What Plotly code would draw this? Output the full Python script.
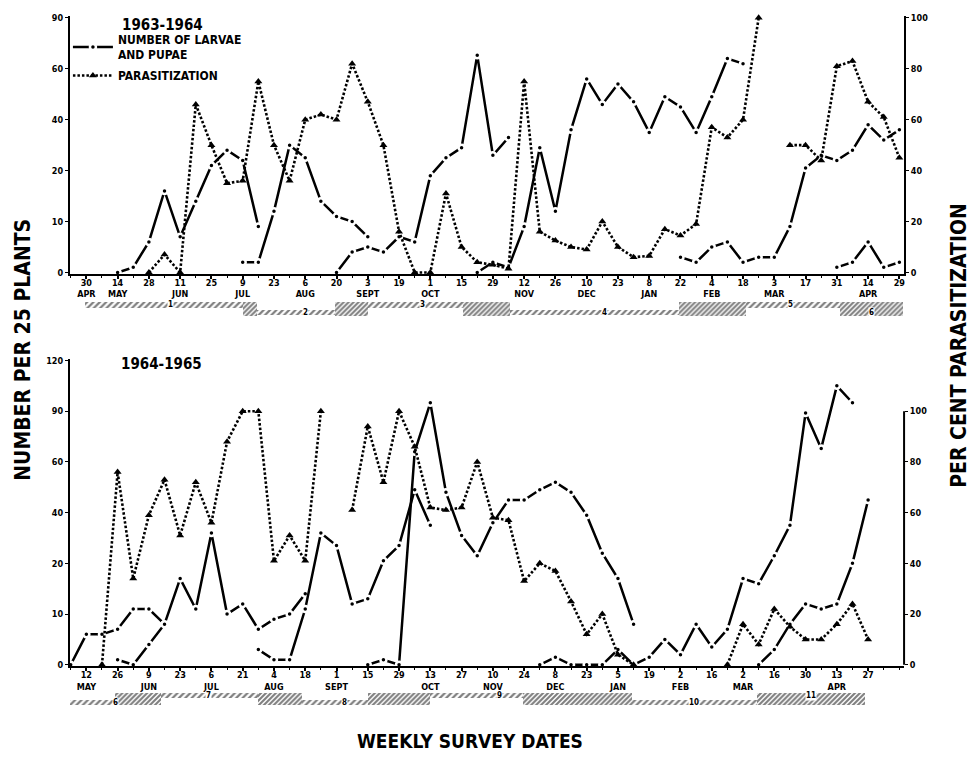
import numpy as np
import plotly.graph_objects as go

W, H = 976, 757

# ------------------------------------------------------------------
# DATA
# Week index: top panel 0 = 30 Apr 1963 ; bottom panel 0 = 12 May 1964
# ------------------------------------------------------------------
top_tick_days = ["30", "14", "28", "11", "25", "9", "23", "6", "20", "3", "19", "1", "15", "29",
                 "12", "26", "10", "23", "8", "22", "4", "18", "3", "17", "31", "14", "29"]
top_tick_months = ["APR", "MAY", "", "JUN", "", "JUL", "", "AUG", "", "SEPT", "", "OCT", "", "",
                   "NOV", "", "DEC", "", "JAN", "", "FEB", "", "MAR", "", "", "APR", ""]

bot_tick_days = ["12", "26", "9", "23", "6", "21", "4", "18", "1", "15", "29", "13", "27", "10",
                 "24", "8", "23", "5", "19", "2", "16", "2", "16", "30", "13", "27"]
bot_tick_months = ["MAY", "", "JUN", "", "JUL", "", "AUG", "", "SEPT", "", "", "OCT", "", "NOV",
                   "", "DEC", "", "JAN", "", "FEB", "", "MAR", "", "", "APR", ""]

top_count_ticks = [0, 10, 20, 40, 60, 90]
bot_count_ticks = [0, 10, 20, 40, 60, 90, 120]
pct_ticks = [0, 20, 40, 60, 80, 100]

# larvae + pupae per 25 plants (one list per generation), with first week index
top_larvae_start = [2, 10, 16, 25, 38, 48]
top_larvae_g1 = [0, 1, 6, 16, 7, 14, 22, 28, 24, 9]
top_larvae_g2 = [2, 2, 12, 30, 25, 14, 11, 10, 7]
top_larvae_g3 = [0, 4, 5, 4, 7, 6, 19, 25, 29, 68, 26, 33]
top_larvae_g4 = [0, 2, 1, 9, 29, 12, 36, 56, 46, 54, 47, 35, 49, 45, 35, 49, 66, 63]
top_larvae_g5 = [3, 2, 5, 6, 2, 3, 3, 9, 21, 26, 24, 28, 38, 32, 36]
top_larvae_g6 = [1, 2, 6, 1, 2]

# per cent parasitization, starting at week 4
top_para_start = 4
top_para = [0, 7, 0, 66, 50, 35, 36, 75, 50, 36, 60, 62, 60, 82, 67, 50, 16, 0, 0, 31,
            10, 4, 3, 1.5, 75, 16, 12.5, 10, 9, 20, 10, 6, 6.5, 17, 14.5, 19, 57, 53, 60, 100,
            None, 50, 50, 44, 81, 83, 67, 61, 45]

bot_larvae_start = [-1, 2, 11, 18, 29, 43]
bot_larvae_g6 = [0, 6, 6, 7, 11, 11, 8]
bot_larvae_g7 = [1, 0, 4, 8, 17, 11, 32, 10, 12, 7, 9, 10, 14]
bot_larvae_g8 = [3, 1, 1, 11, 32, 27, 12, 13, 21, 27, 49, 35]
bot_larvae_g9 = [0, 1, 0, 66, 95, 48, 31, 23, 36, 45, 45, 49, 52, 48, 39, 24, 17, 8]
bot_larvae_g10 = [0, 1.5, 0, 0, 0, 3, 0, 1.5, 5, 2, 8, 3.5, 7, 17, 16, 23, 35, 89, 68, 105, 95]
bot_larvae_g11 = [0, 3, 8, 12, 11, 12, 20, 45]

bot_para_start = 1
bot_para = [0, 76, 34, 59, 73, 51, 72, 56, 88, 100, 100, 41, 51, 41, 100, None,
            61, 94, 72, 100, 86, 62, 61, 62, 80, 58, 57, 33, 40, 37, 25, 12, 20, 4, 0,
            None, None, None, None, None, 0, 16, 8, 22, 15, 10, 10, 16, 24, 10]

# generation bands (week index start / end, row 1 = upper, 0 = lower)
top_gen_labels = ["1", "2", "3", "4", "5", "6"]
top_gen_start = [-0.1, 10.0, 15.9, 24.1, 37.9, 48.2]
top_gen_end = [10.9, 18.0, 27.1, 42.2, 52.2, 52.2]
top_gen_row = [1, 0, 1, 0, 1, 0]

bot_gen_labels = ["6", "7", "8", "9", "10", "11"]
bot_gen_start = [-1.1, 1.8, 11.0, 18.0, 27.9, 42.9]
bot_gen_end = [4.8, 13.8, 22.0, 34.9, 49.8, 49.8]
bot_gen_row = [0, 1, 0, 1, 0, 1]

# ------------------------------------------------------------------
FONT = "Liberation Sans Narrow, DejaVu Sans Condensed, Arial Narrow, Liberation Sans, sans-serif"


def px_x(p):
    return p / W


def px_y(p):
    return 1 - p / H


def to_pos(vals, ticks):
    # non-linear (equal-spaced ticks) count scale of the original
    return np.interp(np.array(vals, dtype=float), ticks, np.arange(len(ticks)))


fig = go.Figure()

LARVAE_LINE = dict(color="black", width=2.5)
LARVAE_MARK = dict(symbol="circle", size=6, color="black", line=dict(color="white", width=2.5))
PARA_LINE = dict(color="black", width=2.6, dash="2.5px,2px")
PARA_MARK = dict(symbol="triangle-up", size=7, color="black")


def add_larvae(starts, gens, ticks, xa, ya, legend):
    for i, (s, g) in enumerate(zip(starts, gens)):
        fig.add_trace(go.Scatter(
            x=list(range(s, s + len(g))), y=to_pos(g, ticks),
            mode="lines+markers", line=LARVAE_LINE, marker=LARVAE_MARK,
            xaxis=xa, yaxis=ya, cliponaxis=False,
            name="NUMBER OF LARVAE<br>AND PUPAE", legendgroup="larvae",
            showlegend=(legend and i == 0)))


def add_para(start, vals, xa, ya, legend):
    fig.add_trace(go.Scatter(
        x=list(range(start, start + len(vals))), y=vals,
        mode="lines+markers", line=PARA_LINE, marker=PARA_MARK,
        xaxis=xa, yaxis=ya, cliponaxis=False, connectgaps=False,
        name="PARASITIZATION", legendgroup="para", showlegend=legend))


add_larvae(top_larvae_start,
           [top_larvae_g1, top_larvae_g2, top_larvae_g3, top_larvae_g4, top_larvae_g5, top_larvae_g6],
           top_count_ticks, "x", "y", True)
add_para(top_para_start, top_para, "x", "y2", True)

add_larvae(bot_larvae_start,
           [bot_larvae_g6, bot_larvae_g7, bot_larvae_g8, bot_larvae_g9, bot_larvae_g10, bot_larvae_g11],
           bot_count_ticks, "x2", "y4", False)
add_para(bot_para_start, bot_para, "x2", "y5", False)


def add_bands(labels, starts, ends, rows, xa, ya):
    fig.add_trace(go.Bar(
        y=rows, x=[e - s for s, e in zip(starts, ends)], base=starts, orientation="h",
        width=[0.75] * len(rows), xaxis=xa, yaxis=ya, showlegend=False, hoverinfo="skip",
        marker=dict(color="white", line=dict(width=0),
                    pattern=dict(shape="/", fgcolor="black", bgcolor="white", size=4.5, solidity=0.5))))
    ov_s = starts[1:]
    ov_e = ends[:-1]
    fig.add_trace(go.Bar(
        y=[0.5] * len(ov_s), x=[e - s for s, e in zip(ov_s, ov_e)], base=ov_s, orientation="h",
        width=[1.9] * len(ov_s), xaxis=xa, yaxis=ya, showlegend=False, hoverinfo="skip",
        marker=dict(color="white", line=dict(width=0),
                    pattern=dict(shape="/", fgcolor="black", bgcolor="white", size=3.5, solidity=0.6))))
    for lab, s, e, r in zip(labels, starts, ends, rows):
        fig.add_annotation(x=(s + e) / 2, y=r, xref=xa, yref=ya, text=lab, showarrow=False,
                           font=dict(size=8, color="black", family=FONT, weight="bold"),
                           bgcolor="white", borderpad=0)


add_bands(top_gen_labels, top_gen_start, top_gen_end, top_gen_row, "x", "y3")
add_bands(bot_gen_labels, bot_gen_start, bot_gen_end, bot_gen_row, "x2", "y6")

# ------------------------------------------------------------------
# LAYOUT
# ------------------------------------------------------------------
XDOM = [px_x(70), px_x(905)]
XRANGE = [-1.05, 52.3]
TICKFONT = dict(size=9, color="black", family=FONT, weight="bold")


def xaxis(days, months, anchor):
    return dict(domain=XDOM, range=XRANGE, anchor=anchor, showgrid=False, zeroline=False,
                showline=True, linecolor="black", linewidth=2,
                tickmode="array", tickvals=[2 * i for i in range(len(days))],
                ticktext=[d + ("<br>" + m if m else "") for d, m in zip(days, months)],
                ticks="outside", ticklen=3, tickwidth=1.5, tickcolor="black",
                ticklabelstandoff=-4,
                minor=dict(tickmode="array", tickvals=list(range(-1, 53)), ticks="outside",
                           ticklen=2, tickcolor="black", tickwidth=1),
                tickfont=TICKFONT, tickangle=0)


def yleft(ticks, dom, anchor):
    n = len(ticks)
    return dict(domain=dom, range=[-0.03, n - 1 + 0.03], anchor=anchor, showgrid=False,
                zeroline=False, showline=True, linecolor="black", linewidth=2,
                tickmode="array", tickvals=list(range(n)), ticktext=[str(t) for t in ticks],
                ticks="outside", ticklen=3, tickcolor="black", tickfont=TICKFONT)


def yright(top, overlay, anchor, line):
    return dict(range=[-0.6, top + 0.6], overlaying=overlay, side="right", anchor=anchor,
                showgrid=False, zeroline=False, showline=line, linecolor="black", linewidth=2,
                tickmode="array", tickvals=pct_ticks, ticktext=[str(t) for t in pct_ticks],
                ticks="outside", ticklen=3, tickcolor="black", tickfont=TICKFONT)


def yband(dom, anchor):
    return dict(domain=dom, range=[-1.5, 2.5], anchor=anchor, visible=False, fixedrange=True)


top_dom = [px_y(273.5), px_y(13.4)]
bot_dom = [px_y(669.5), px_y(359.3)]

fig.update_layout(
    width=W, height=H, margin=dict(l=0, r=0, t=0, b=0),
    paper_bgcolor="white", plot_bgcolor="rgba(0,0,0,0)",
    barmode="overlay", bargap=0,
    font=dict(family=FONT, color="black", weight="bold"),
    xaxis=xaxis(top_tick_days, top_tick_months, "y"),
    xaxis2=xaxis(bot_tick_days, bot_tick_months, "y4"),
    yaxis=yleft(top_count_ticks, top_dom, "x"),
    yaxis2=yright(100, "y", "x", True),
    yaxis3=yband([px_y(323.5), px_y(293.5)], "x"),
    yaxis4=yleft(bot_count_ticks, bot_dom, "x2"),
    yaxis5=yright(120, "y4", "x2", False),
    yaxis6=yband([px_y(715.5), px_y(689.5)], "x2"),
    legend=dict(x=px_x(68), y=px_y(22), xanchor="left", yanchor="top",
                bgcolor="rgba(0,0,0,0)", borderwidth=0, tracegroupgap=2,
                font=dict(size=12, color="black", family=FONT, weight="bold"),
                itemwidth=40),
    showlegend=True,
)

# right axis line of lower panel only spans 0-100 %
fig.add_shape(type="line", xref="paper", yref="y5", x0=px_x(905), x1=px_x(905), y0=0, y1=100,
              line=dict(color="black", width=2))

ANN = dict(showarrow=False, xref="paper", yref="paper")
fig.add_annotation(x=px_x(120), y=px_y(22), text="1963-1964", xanchor="left", yanchor="middle",
                   font=dict(size=15, family=FONT, color="black", weight="bold"), **ANN)
fig.add_annotation(x=px_x(119), y=px_y(364), text="1964-1965", xanchor="left", yanchor="middle",
                   font=dict(size=15, family=FONT, color="black", weight="bold"), **ANN)
fig.add_annotation(x=px_x(23), y=px_y(350), text="NUMBER PER 25 PLANTS", textangle=-90,
                   xanchor="center", yanchor="middle",
                   font=dict(size=21, family=FONT, color="black", weight="bold"), **ANN)
fig.add_annotation(x=px_x(960), y=px_y(346), text="PER CENT PARASITIZATION", textangle=-90,
                   xanchor="center", yanchor="middle",
                   font=dict(size=21, family=FONT, color="black", weight="bold"), **ANN)
fig.add_annotation(x=px_x(470), y=px_y(745), text="WEEKLY SURVEY DATES",
                   xanchor="center", yanchor="middle",
                   font=dict(size=19, family=FONT, color="black", weight="bold"), **ANN)

fig.write_html("out.html")
